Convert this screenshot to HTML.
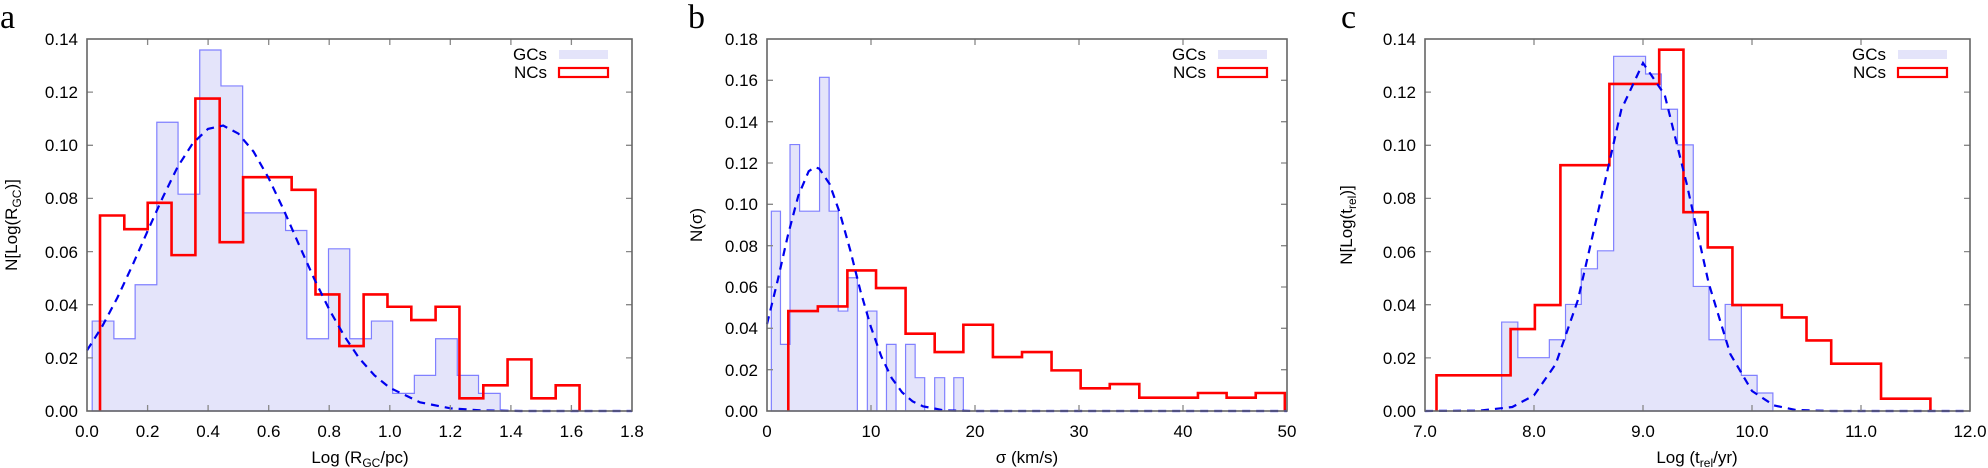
<!DOCTYPE html>
<html><head><meta charset="utf-8"><style>
html,body{margin:0;padding:0;background:#fff;}
svg{display:block;}
text{font-family:"Liberation Sans",sans-serif;fill:#000;font-size:17px;}
.l{font-family:"Liberation Serif",serif;font-size:34px;}
.e{text-anchor:end}.m{text-anchor:middle}
</style></head><body>
<svg width="1988" height="468" viewBox="0 0 1988 468" xmlns="http://www.w3.org/2000/svg">
<!-- ===== Panel a ===== -->
<g transform="translate(0.29,0.70) scale(0.43357,0.33303)">
<path d="M212,1232 V962 H262 V1015 H311 V853 H361 V365 H410 V581 H460 V148 H509 V256 H559 V637 H658 V690 H707 V1015 H757 V745 H806 V1015 H856 V962 H905 V1179 H955 V1125 H1004 V1015 H1054 V1125 H1103 V1179 H1153 V1232 Z" fill="#e4e4fa" stroke="#8080ff" stroke-width="1.2" vector-effect="non-scaling-stroke"/>
<path d="M230,1232 V645 H286 V686 H340 V607 H395 V764 H450 V294 H506 V725 H560 V530 H672 V568 H727 V882 H782 V1037 H838 V882 H893 V919 H948 V959 H1004 V919 H1059 V1194 H1114 V1155 H1170 V1077 H1225 V1194 H1281 V1155 H1336 V1232" fill="none" stroke="#ff0000" stroke-width="2.6" vector-effect="non-scaling-stroke"/>
<path d="M200,1050 L235,978 L270,892 L305,794 L340,691 L375,590 L409,499 L444,428 L479,385 L514,375 L549,399 L584,453 L619,533 L654,629 L689,733 L724,835 L759,928 L794,1008 L828,1074 L863,1125 L898,1162 L968,1206 L1038,1224 L1108,1230 L1200,1232 L1457,1232" fill="none" stroke="#0000ee" stroke-width="2.2" stroke-dasharray="8,6" vector-effect="non-scaling-stroke"/>
</g>
<path d="M147.6,411v-6M208.1,411v-6M268.7,411v-6M329.2,411v-6M389.8,411v-6M450.3,411v-6M510.9,411v-6M571.4,411v-6M147.6,39v6M208.1,39v6M268.7,39v6M329.2,39v6M389.8,39v6M450.3,39v6M510.9,39v6M571.4,39v6M87,357.9h6M87,304.7h6M87,251.6h6M87,198.4h6M87,145.3h6M87,92.1h6M632,357.9h-6M632,304.7h-6M632,251.6h-6M632,198.4h-6M632,145.3h-6M632,92.1h-6" stroke="#888" stroke-width="1.3"/>
<rect x="87" y="39" width="545" height="372" fill="none" stroke="#666" stroke-width="1.6"/>
<g class="m">
<text x="87" y="437" class="m">0.0</text><text x="147.6" y="437" class="m">0.2</text><text x="208.1" y="437" class="m">0.4</text><text x="268.7" y="437" class="m">0.6</text><text x="329.2" y="437" class="m">0.8</text><text x="389.8" y="437" class="m">1.0</text><text x="450.3" y="437" class="m">1.2</text><text x="510.9" y="437" class="m">1.4</text><text x="571.4" y="437" class="m">1.6</text><text x="632" y="437" class="m">1.8</text>
</g>
<text x="78" y="417" class="e">0.00</text><text x="78" y="364" class="e">0.02</text><text x="78" y="311" class="e">0.04</text><text x="78" y="258" class="e">0.06</text><text x="78" y="204" class="e">0.08</text><text x="78" y="151" class="e">0.10</text><text x="78" y="98" class="e">0.12</text><text x="78" y="45" class="e">0.14</text>
<text x="547" y="60" class="e">GCs</text><rect x="559" y="50" width="49" height="9" fill="#e4e4fa"/>
<text x="547" y="78" class="e">NCs</text><rect x="559" y="68" width="49" height="9" fill="#fff" stroke="#ff0000" stroke-width="2.2"/>
<text x="360" y="463" class="m">Log (R<tspan dy="4" font-size="12">GC</tspan><tspan dy="-4">/pc)</tspan></text>
<text transform="translate(17,225) rotate(-90)" class="m">N[Log(R<tspan dy="4" font-size="12">GC</tspan><tspan dy="-4">)]</tspan></text>
<text x="0" y="28" class="l">a</text>

<!-- ===== Panel b ===== -->
<g transform="translate(659.7,0.70) scale(0.43442,0.33303)">
<path d="M257,1232 V632 H278 V1032 H300 V432 H322 V632 H368 V230 H390 V632 H411 V932 H433 V832 H455 V1232 H478 V932 H500 V1232 H522 V1032 H544 V1232 H566 V1032 H588 V1132 H610 V1232 H633 V1132 H656 V1232 H677 V1132 H699 V1232 Z" fill="#e4e4fa" stroke="#8080ff" stroke-width="1.2" vector-effect="non-scaling-stroke"/>
<path d="M296,1232 V932 H364 V918 H432 V810 H498 V863 H566 V1000 H633 V1055 H699 V973 H767 V1070 H834 V1055 H902 V1110 H969 V1164 H1036 V1151 H1104 V1192 H1239 V1178 H1305 V1192 H1372 V1178 H1439 V1232" fill="none" stroke="#ff0000" stroke-width="2.6" vector-effect="non-scaling-stroke"/>
<path d="M247,971 L271,843 L295,705 L319,586 L343,512 L357,500 L367,504 L391,550 L415,639 L439,751 L462,871 L486,979 L510,1068 L534,1133 L558,1176 L582,1203 L606,1218 L654,1230 L720,1232 L1444,1232" fill="none" stroke="#0000ee" stroke-width="2.2" stroke-dasharray="8,6" vector-effect="non-scaling-stroke"/>
</g>
<path d="M871,411v-6M975,411v-6M1079,411v-6M1183,411v-6M871,39v6M975,39v6M1079,39v6M1183,39v6M767,369.7h6M767,328.3h6M767,287h6M767,245.7h6M767,204.3h6M767,163h6M767,121.7h6M767,80.3h6M1287,369.7h-6M1287,328.3h-6M1287,287h-6M1287,245.7h-6M1287,204.3h-6M1287,163h-6M1287,121.7h-6M1287,80.3h-6" stroke="#888" stroke-width="1.3"/>
<rect x="767" y="39" width="520" height="372" fill="none" stroke="#666" stroke-width="1.6"/>
<text x="767" y="437" class="m">0</text><text x="871" y="437" class="m">10</text><text x="975" y="437" class="m">20</text><text x="1079" y="437" class="m">30</text><text x="1183" y="437" class="m">40</text><text x="1287" y="437" class="m">50</text>
<text x="758" y="417" class="e">0.00</text><text x="758" y="376" class="e">0.02</text><text x="758" y="334" class="e">0.04</text><text x="758" y="293" class="e">0.06</text><text x="758" y="252" class="e">0.08</text><text x="758" y="210" class="e">0.10</text><text x="758" y="169" class="e">0.12</text><text x="758" y="128" class="e">0.14</text><text x="758" y="86" class="e">0.16</text><text x="758" y="45" class="e">0.18</text>
<text x="1206" y="60" class="e">GCs</text><rect x="1218" y="50" width="49" height="9" fill="#e4e4fa"/>
<text x="1206" y="78" class="e">NCs</text><rect x="1218" y="68" width="49" height="9" fill="#fff" stroke="#ff0000" stroke-width="2.2"/>
<text x="1027" y="463" class="m">σ (km/s)</text>
<text transform="translate(702,225) rotate(-90)" class="m">N(σ)</text>
<text x="688" y="28" class="l">b</text>

<!-- ===== Panel c ===== -->
<g transform="translate(1320.7,0.70) scale(0.42578,0.33303)">
<path d="M425,1232 V965 H463 V1072 H537 V1018 H575 V912 H612 V805 H650 V751 H688 V167 H763 V220 H800 V326 H838 V433 H875 V858 H912 V1018 H950 V912 H988 V1125 H1025 V1178 H1062 V1232 Z" fill="#e4e4fa" stroke="#8080ff" stroke-width="1.2" vector-effect="non-scaling-stroke"/>
<path d="M272,1232 V1125 H446 V986 H503 V914 H563 V494 H678 V250 H795 V147 H852 V635 H909 V741 H967 V914 H1083 V951 H1141 V1020 H1199 V1090 H1316 V1195 H1432 V1232" fill="none" stroke="#ff0000" stroke-width="2.6" vector-effect="non-scaling-stroke"/>
<path d="M245,1232 L373,1231 L450,1220 L501,1185 L552,1091 L604,899 L655,614 L706,327 L757,187 L808,283 L860,552 L911,847 L962,1061 L1013,1172 L1064,1215 L1116,1229 L1200,1232 L1525,1232" fill="none" stroke="#0000ee" stroke-width="2.2" stroke-dasharray="8,6" vector-effect="non-scaling-stroke"/>
</g>
<path d="M1534,411v-6M1643,411v-6M1752,411v-6M1861,411v-6M1534,39v6M1643,39v6M1752,39v6M1861,39v6M1425,357.9h6M1425,304.7h6M1425,251.6h6M1425,198.4h6M1425,145.3h6M1425,92.1h6M1970,357.9h-6M1970,304.7h-6M1970,251.6h-6M1970,198.4h-6M1970,145.3h-6M1970,92.1h-6" stroke="#888" stroke-width="1.3"/>
<rect x="1425" y="39" width="545" height="372" fill="none" stroke="#666" stroke-width="1.6"/>
<text x="1425" y="437" class="m">7.0</text><text x="1534" y="437" class="m">8.0</text><text x="1643" y="437" class="m">9.0</text><text x="1752" y="437" class="m">10.0</text><text x="1861" y="437" class="m">11.0</text><text x="1970" y="437" class="m">12.0</text>
<text x="1416" y="417" class="e">0.00</text><text x="1416" y="364" class="e">0.02</text><text x="1416" y="311" class="e">0.04</text><text x="1416" y="258" class="e">0.06</text><text x="1416" y="204" class="e">0.08</text><text x="1416" y="151" class="e">0.10</text><text x="1416" y="98" class="e">0.12</text><text x="1416" y="45" class="e">0.14</text>
<text x="1886" y="60" class="e">GCs</text><rect x="1898" y="50" width="49" height="9" fill="#e4e4fa"/>
<text x="1886" y="78" class="e">NCs</text><rect x="1898" y="68" width="49" height="9" fill="#fff" stroke="#ff0000" stroke-width="2.2"/>
<text x="1697" y="463" class="m">Log (t<tspan dy="4" font-size="12">rel</tspan><tspan dy="-4">/yr)</tspan></text>
<text transform="translate(1352,225) rotate(-90)" class="m">N[Log(t<tspan dy="4" font-size="12">rel</tspan><tspan dy="-4">)]</tspan></text>
<text x="1341" y="28" class="l">c</text>
</svg>
</body></html>
